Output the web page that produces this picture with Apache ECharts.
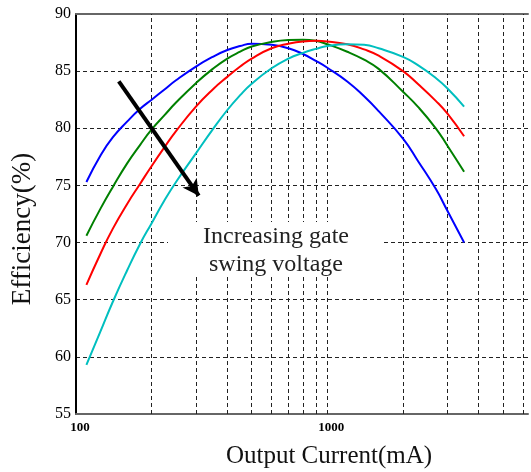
<!DOCTYPE html>
<html>
<head>
<meta charset="utf-8">
<style>
  html, body { margin: 0; padding: 0; background: #fff; }
  #chart { width: 531px; height: 472px; }
</style>
<script src="https://cdn.jsdelivr.net/npm/echarts@6/dist/echarts.min.js"></script>
</head>
<body>
<div id="chart"></div>
<script>
// Output current sample points (mA)
const currents = [110, 125, 140, 160, 180, 200, 225, 250, 300, 350, 400, 450, 500,
                  600, 700, 800, 900, 1000, 1200, 1400, 1600, 2000, 2300, 2700, 3000, 3500];

// Efficiency (%) for each gate swing voltage, lowest to highest
const effBlue  = [75.3, 77.6, 79.2, 80.6, 81.7, 82.5, 83.4, 84.2, 85.4, 86.25, 86.85, 87.2, 87.4,
                  87.3, 87.0, 86.5, 85.9, 85.3, 84.1, 82.8, 81.5, 79.1, 77.1, 74.7, 72.8, 70.0];
const effGreen = [70.6, 72.95, 74.85, 76.95, 78.55, 79.9, 81.15, 82.25, 83.95, 85.2, 86.1, 86.7, 87.15,
                  87.55, 87.72, 87.75, 87.65, 87.35, 86.7, 86.0, 85.2, 83.2, 81.85, 80.0, 78.5, 76.2];
const effRed   = [66.3, 69.0, 71.2, 73.4, 75.15, 76.7, 78.35, 79.75, 81.9, 83.4, 84.5, 85.4, 86.1,
                  87.0, 87.4, 87.6, 87.65, 87.6, 87.35, 86.9, 86.35, 85.0, 83.85, 82.4, 81.3, 79.3];
const effCyan  = [59.3, 62.2, 64.8, 67.6, 69.9, 71.7, 73.7, 75.3, 77.8, 79.9, 81.6, 82.9, 83.9,
                  85.25, 86.1, 86.6, 86.95, 87.2, 87.35, 87.3, 87.0, 86.25, 85.5, 84.4, 83.5, 81.9];

// Axis settings
const xMin = 100, xMax = 6285;
const xLabelValues = [100, 1000];
const xGridValues = [200, 300, 400, 500, 600, 700, 800, 900, 1000, 2000, 3000, 4000, 5000, 6000];
const yMin = 55, yMax = 90, yStep = 5;

// Trend arrow endpoints [current, efficiency]
const arrowStart = [148, 84.1];
const arrowEnd = [308, 74.1];

const serif = '"Liberation Serif", "Times New Roman", serif';

const chart = echarts.init(document.getElementById('chart'), null, { renderer: 'canvas' });

function curve(name, color, values) {
  return {
    name: name,
    type: 'line',
    data: currents.map((c, i) => [c, values[i]]),
    showSymbol: false,
    smooth: 0.5,
    lineStyle: { color: color, width: 2 },
    itemStyle: { color: color },
    z: 3
  };
}

chart.setOption({
  animation: false,
  grid: { left: 76, top: 14, right: 0, height: 400, show: false },
  xAxis: [
    {
      type: 'log',
      logBase: 10,
      min: xMin,
      max: xMax,
      axisLine: { show: true, lineStyle: { color: '#666', width: 2 } },
      axisTick: { show: false },
      splitLine: { show: false },
      minorTick: { show: false },
      axisLabel: {
        color: '#000',
        fontFamily: serif,
        fontSize: 13,
        fontWeight: 'bold',
        margin: 7,
        padding: [0, 0, 0, 8],
        formatter: function (v) {
          const r = Math.round(v);
          return xLabelValues.indexOf(r) >= 0 ? String(r) : '';
        }
      }
    },
    {
      // top frame line
      type: 'value',
      position: 'top',
      min: 0,
      max: 1,
      axisLine: { show: true, lineStyle: { color: '#666', width: 2 } },
      axisTick: { show: false },
      axisLabel: { show: false },
      splitLine: { show: false }
    }
  ],
  yAxis: {
    type: 'value',
    min: yMin,
    max: yMax,
    interval: yStep,
    axisLine: { show: true, lineStyle: { color: '#000', width: 2 } },
    axisTick: { show: false },
    splitLine: { show: true, lineStyle: { color: '#222', width: 1, type: [4, 3] } },
    axisLabel: { color: '#000', fontFamily: serif, fontSize: 16, margin: 5 }
  },
  series: [
    {
      name: 'grid',
      type: 'line',
      data: [],
      silent: true,
      markLine: {
        silent: true,
        z: 1,
        symbol: ['none', 'none'],
        label: { show: false },
        lineStyle: { color: '#222', width: 1, type: [4, 3] },
        data: xGridValues.map(v => ({ xAxis: v }))
      }
    },
    curve('Vg1', '#0000ff', effBlue),
    curve('Vg2', '#008000', effGreen),
    curve('Vg3', '#ff0000', effRed),
    curve('Vg4', '#00bfbf', effCyan),
    {
      name: 'trend',
      type: 'line',
      data: [],
      silent: true,
      markLine: {
        silent: true,
        z: 10,
        symbol: ['none', 'arrow'],
        symbolSize: [13, 16],
        label: { show: false },
        lineStyle: { color: '#000', width: 4, type: 'solid' },
        data: [[{ coord: arrowStart }, { coord: arrowEnd }]]
      }
    }
  ],
  graphic: [
    {
      type: 'rect',
      z: 50,
      shape: { x: 168, y: 222, width: 214, height: 55 },
      style: { fill: '#fff' },
      silent: true
    },
    {
      type: 'text',
      z: 51,
      x: 276, y: 251,
      style: {
        text: 'Increasing gate\nswing voltage',
        font: '24px ' + serif,
        fill: '#222',
        align: 'center',
        verticalAlign: 'middle',
        lineHeight: 28
      },
      silent: true
    },
    {
      type: 'text',
      x: 329, y: 456,
      style: {
        text: 'Output Current(mA)',
        font: '25px ' + serif,
        fill: '#111',
        align: 'center',
        verticalAlign: 'middle'
      },
      silent: true
    },
    {
      type: 'text',
      x: 23, y: 229,
      rotation: Math.PI / 2,
      style: {
        text: 'Efficiency(%)',
        font: '27px ' + serif,
        fill: '#111',
        align: 'center',
        verticalAlign: 'middle'
      },
      silent: true
    }
  ]
});
</script>
</body>
</html>
